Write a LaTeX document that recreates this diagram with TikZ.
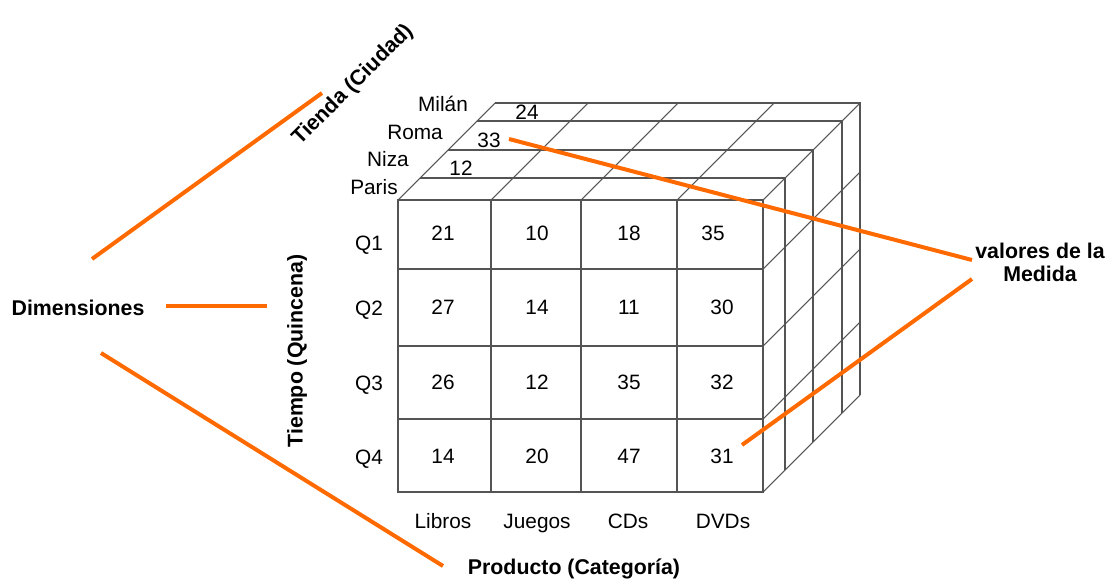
\documentclass[tikz,border=0pt]{standalone}
\usepackage{fontspec}
\setmainfont{Liberation Sans}
\usetikzlibrary{positioning}
\definecolor{dimorange}{RGB}{255,106,0}
\definecolor{gridgray}{gray}{0.33}
\tikzset{
  cellval/.style={font=\fontsize{15.6}{18}\selectfont, inner sep=0pt,
                  text height=11.2pt, text depth=0pt},
  dimlabel/.style={font=\fontsize{16}{17.3}\selectfont\bfseries,
                   inner sep=0pt, align=center},
  gridline/.style={gridgray, line width=0.8pt},
  pointer/.style={dimorange, line width=3pt}
}

\begin{document}
\begin{tikzpicture}[x=0.75pt, y=-0.75pt]
  \useasboundingbox (0,0) rectangle (1106,588);

  % front face of the cube
  \draw[gridline] (398,200) rectangle (763,492);
  \foreach \cx in {491,581,677} \draw[gridline] (\cx,200) -- (\cx,492);
  \foreach \ry in {269,346,419} \draw[gridline] (398,\ry) -- (763,\ry);

  % one slice per city, top and right side
  \foreach \d in {22,50,79,97}
    \draw[gridline] (398+\d,200-\d) -- (763+\d,200-\d) -- (763+\d,492-\d);
  \foreach \cx in {398,491,581,677,763} \draw[gridline] (\cx,200) -- ++(97,-97);
  \foreach \ry in {269,346,419,492} \draw[gridline] (763,\ry) -- ++(97,-97);

  % measures, row by row
  \foreach \q/\y/\qy/\a/\b/\c/\e/\ex in {1/233/243/21/10/18/35/713,
                                          2/307/308/27/14/11/30/722,
                                          3/382/383/26/12/35/32/722,
                                          4/456/457/14/20/47/31/722} {
    \node[cellval] (q\q) at (369,\qy) {Q\q};
    \node[cellval] (v\q1) at (443,\y) {\a};
    \node[cellval] (v\q2) at (537,\y) {\b};
    \node[cellval] (v\q3) at (629,\y) {\c};
    \node[cellval] (v\q4) at (\ex,\y) {\e};
  }

  % products
  \node[cellval] (libros) at (443,521) {Libros};
  \node[cellval] (juegos) at (537,521) {Juegos};
  \node[cellval] (cds)    at (628,521) {CDs};
  \node[cellval] (dvds)   at (723,521) {DVDs};

  % cities and the few back values
  \node[cellval] (milan) at (443,104) {Milán};
  \node[cellval] (roma)  at (415,132) {Roma};
  \node[cellval] (niza)  at (388,159) {Niza};
  \node[cellval] (paris) at (374,187) {Paris};
  \node[cellval] (m24) at (527,112) {24};
  \node[cellval] (r33) at (489,140) {33};
  \node[cellval] (n12) at (461,168) {12};

  % dimension names
  \node[dimlabel] (dim) at (78,308) {Dimensiones};
  \node[dimlabel, rotate=45] (tienda) at (353,85) {Tienda (Ciudad)};
  \node[dimlabel, rotate=90] (tiempo) at (297,351) {Tiempo (Quincena)};
  \node[dimlabel] (producto) at (574,569) {Producto (Categoría)};
  \node[dimlabel] (medida) at (1040,262) {valores de la\\Medida};

  % orange pointers
  \coordinate (dimUp)   at (92,259);
  \coordinate (dimMid)  at (166,306);
  \coordinate (dimDown) at (101,353);
  \coordinate (tiendaEnd) at (322,93);
  \coordinate (tiempoEnd) at (267,306);
  \coordinate (prodEnd)   at (443,566);
  \coordinate (medUp)   at (972,260);
  \coordinate (medDown) at (972,279);
  \coordinate (at33) at (509,139);
  \coordinate (at31) at (742,445);

  \draw[pointer] (dimUp) -- (tiendaEnd);
  \draw[pointer] (dimMid) -- (tiempoEnd);
  \draw[pointer] (dimDown) -- (prodEnd);
  \draw[pointer] (at33) -- (medUp);
  \draw[pointer] (at31) -- (medDown);
\end{tikzpicture}
\end{document}
